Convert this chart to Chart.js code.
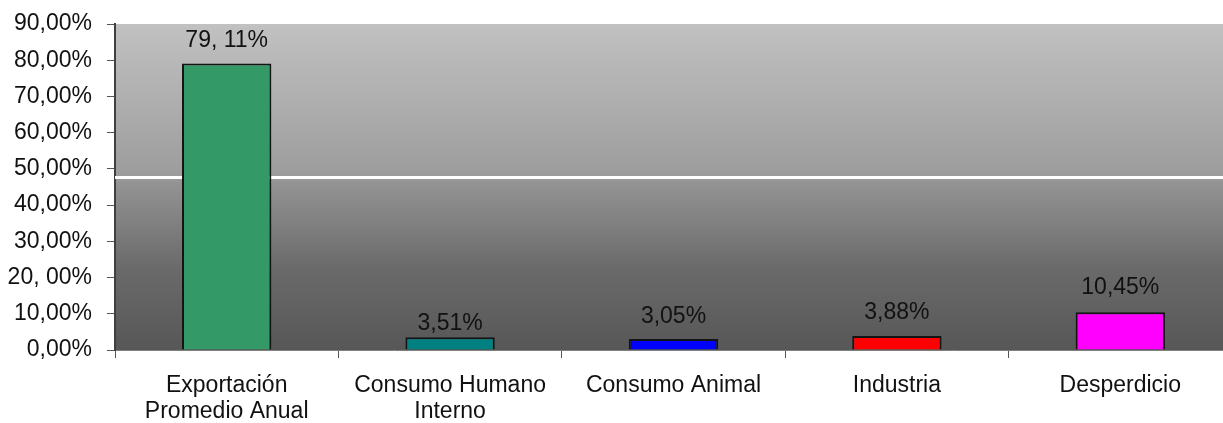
<!DOCTYPE html>
<html>
<head>
<meta charset="utf-8">
<script src="https://cdn.jsdelivr.net/npm/chart.js@4"></script>
<style>
html,body{margin:0;padding:0;background:#fff;overflow:hidden;}
#wrap{width:1232px;height:423px;position:relative;}
</style>
</head>
<body>
<div id="wrap"><canvas id="c"></canvas></div>
<script>
const categories = [["Exportación","Promedio Anual"],["Consumo Humano","Interno"],"Consumo Animal","Industria","Desperdicio"];
const values = [79.11, 3.51, 3.05, 3.88, 10.45];
const valueLabels = ["79, 11%","3,51%","3,05%","3,88%","10,45%"];
const tickLabels = ["0,00%","10,00%","20, 00%","30,00%","40,00%","50,00%","60,00%","70,00%","80,00%","90,00%"];
const whiteLineValue = 47.6;

const barColors = ["#339966","#008080","#0000FF","#FF0000","#FF00FF"];
const labelOffsets = [23,14,22,23,24];
const FONT = "'Liberation Sans', Arial, sans-serif";

const bgPlugin = {
  id:'bg',
  beforeDraw(chart){
    const {ctx, chartArea:a} = chart;
    const g = ctx.createLinearGradient(0,a.top,0,a.bottom);
    g.addColorStop(0,'#c1c1c1');
    g.addColorStop(0.47,'#9c9c9c');
    g.addColorStop(0.49,'#939393');
    g.addColorStop(0.75,'#6a6a6a');
    g.addColorStop(1,'#575757');
    ctx.save();
    ctx.fillStyle = g;
    ctx.fillRect(a.left,a.top,a.right-a.left,a.bottom-a.top);
    ctx.restore();
  },
  beforeDatasetsDraw(chart){
    const {ctx, chartArea:a, scales} = chart;
    const y = scales.y.getPixelForValue(whiteLineValue);
    ctx.save();
    ctx.strokeStyle='#ffffff';
    ctx.lineWidth=3;
    ctx.beginPath();
    ctx.moveTo(a.left,y);ctx.lineTo(a.right,y);
    ctx.stroke();
    ctx.restore();
  },
  afterDatasetsDraw(chart){
    const {ctx} = chart;
    const meta = chart.getDatasetMeta(0);
    ctx.save();
    ctx.font = "23px " + FONT;
    ctx.fillStyle = '#111';
    ctx.textAlign='center';
    ctx.textBaseline='middle';
    meta.data.forEach((bar,i)=>{
      ctx.fillText(valueLabels[i], bar.x, bar.y - labelOffsets[i]);
    });
    ctx.restore();
  }
};

new Chart(document.getElementById('c'),{
  type:'bar',
  data:{
    labels:categories,
    datasets:[{
      data:values,
      backgroundColor:barColors,
      borderColor:'#141414',
      borderWidth:2,
      barPercentage:0.4,
      categoryPercentage:1
    }]
  },
  options:{
    responsive:true,
    maintainAspectRatio:false,
    animation:false,
    layout:{padding:{top:24,right:0,left:0,bottom:0}},
    plugins:{legend:{display:false},tooltip:{enabled:false}},
    scales:{
      x:{
        grid:{offset:true,drawOnChartArea:false,tickLength:8,color:'#555',tickWidth:1},
        border:{color:'#808080',width:1},
        ticks:{font:{family:FONT,size:23,lineHeight:1.15},color:'#111',padding:14,maxRotation:0,autoSkip:false},
        afterFit(s){s.height=73;s.paddingLeft=0;s.paddingRight=0;}
      },
      y:{
        min:0,max:90,
        grid:{drawOnChartArea:false,tickLength:8,color:'#555',tickWidth:1},
        border:{color:'#404040',width:2},
        ticks:{stepSize:10,font:{family:FONT,size:23},color:'#111',padding:15,
          callback:(v,i)=>tickLabels[i]},
        afterFit(s){s.width=115;s.paddingTop=0;s.paddingBottom=0;}
      }
    }
  },
  plugins:[bgPlugin]
});
</script>
</body>
</html>
